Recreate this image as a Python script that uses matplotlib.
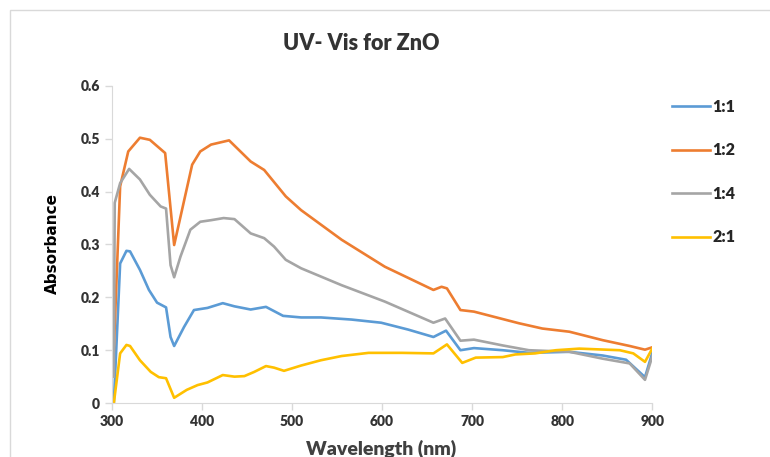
import numpy as np
import matplotlib.pyplot as plt
from matplotlib.patches import Rectangle

# wavelength (nm) / absorbance
wl_11 = [302, 309, 316, 320, 331, 341, 350, 360, 365, 369, 380, 391, 406, 423, 436, 454, 471, 490,
         510, 532, 566, 599, 629, 657, 671, 687, 702, 734, 763, 808, 845, 871, 892, 901]
abs_11 = [0.0, 0.264, 0.288, 0.287, 0.252, 0.214, 0.190, 0.181, 0.125, 0.108, 0.144, 0.176, 0.180,
          0.189, 0.183, 0.177, 0.182, 0.165, 0.162, 0.162, 0.158, 0.152, 0.139, 0.125, 0.137, 0.100,
          0.104, 0.100, 0.095, 0.097, 0.090, 0.082, 0.049, 0.100]

wl_12 = [302, 309, 318, 331, 342, 359, 369, 389, 398, 410, 430, 454, 469, 493, 510, 555, 603, 657,
         666, 672, 687, 702, 752, 778, 808, 845, 875, 892, 901]
abs_12 = [0.10, 0.410, 0.476, 0.502, 0.498, 0.473, 0.299, 0.451, 0.476, 0.489, 0.497, 0.457, 0.441,
          0.391, 0.365, 0.309, 0.258, 0.214, 0.220, 0.217, 0.176, 0.173, 0.151, 0.141, 0.135, 0.119,
          0.108, 0.101, 0.106]

wl_14 = [302, 303, 309, 319, 331, 342, 354, 360, 365, 369, 376, 387, 398, 410, 424, 436, 454, 469,
         480, 493, 510, 555, 603, 657, 670, 687, 702, 734, 763, 808, 845, 875, 892, 901]
abs_14 = [0.05, 0.379, 0.416, 0.443, 0.423, 0.394, 0.372, 0.368, 0.261, 0.238, 0.277, 0.328, 0.343,
          0.346, 0.350, 0.348, 0.321, 0.312, 0.296, 0.271, 0.255, 0.223, 0.192, 0.152, 0.160, 0.118,
          0.120, 0.109, 0.100, 0.097, 0.084, 0.075, 0.044, 0.093]

wl_21 = [302, 309, 316, 320, 331, 343, 352, 360, 369, 383, 395, 406, 423, 436, 447, 458, 471, 480,
         491, 510, 532, 555, 585, 622, 657, 672, 689, 704, 734, 748, 770, 793, 819, 864, 879, 892, 901]
abs_21 = [0.0, 0.094, 0.110, 0.108, 0.081, 0.059, 0.049, 0.047, 0.010, 0.025, 0.034, 0.039, 0.053,
          0.050, 0.051, 0.059, 0.070, 0.067, 0.061, 0.071, 0.081, 0.089, 0.095, 0.095, 0.094, 0.111,
          0.076, 0.086, 0.087, 0.092, 0.094, 0.100, 0.103, 0.100, 0.094, 0.078, 0.106]

labels = ['1:1', '1:2', '1:4', '2:1']
colors = ['#5B9BD5', '#ED7D31', '#A5A5A5', '#FFC000']

plt.rcParams['font.family'] = ['Lato', 'DejaVu Sans']

fig = plt.figure(figsize=(7.7, 4.57), dpi=100)
ax = fig.add_axes([0.1455, 0.118, 0.7015, 0.694])

series = [(wl_11, abs_11), (wl_12, abs_12), (wl_14, abs_14), (wl_21, abs_21)]
for (x, y), lab, c in zip(series, labels, colors):
    ax.plot(x, y, color=c, lw=1.9, label=lab)

ax.set_xlim(300, 900)
ax.set_ylim(0, 0.6)
ax.set_xticks(np.arange(300, 901, 100))
ax.set_yticks(np.arange(0, 0.61, 0.1))
ax.set_yticklabels(['0', '0.1', '0.2', '0.3', '0.4', '0.5', '0.6'])

for s in ['top', 'right']:
    ax.spines[s].set_visible(False)
for s in ['left', 'bottom']:
    ax.spines[s].set_color('#d9d9d9')
ax.tick_params(colors='#d9d9d9', labelcolor='#333333', labelsize=10, length=5, width=1)
for t in ax.get_xticklabels() + ax.get_yticklabels():
    t.set_fontweight('heavy')

ax.set_xlabel('Wavelength (nm)', fontsize=14, fontweight='heavy', color='#404040')
ax.xaxis.set_label_coords(0.498, -0.117)
ax.set_ylabel('Absorbance', fontsize=11, fontweight='bold', color='#000000',
              family=['DejaVu Sans'])
ax.yaxis.set_label_coords(-0.111, 0.503)
ax.yaxis.label.set_va('center')
fig.text(0.4695, 0.904, 'UV- Vis for ZnO', ha='center', va='center', fontsize=15.5,
         fontweight='heavy', color='#333333')

leg = ax.legend(loc='upper left', bbox_to_anchor=(1.01, 1.005), frameon=False, fontsize=11.5,
                handlelength=2.4, labelspacing=1.72, handletextpad=0.15)
for t in leg.get_texts():
    t.set_fontweight('heavy')
    t.set_color('#262626')

fig.patches.append(Rectangle((10 / 770, -0.1), 1.2, 1 - 10 / 457 + 0.1, transform=fig.transFigure,
                             fill=False, edgecolor='#d9d9d9', lw=1))

fig.savefig('out.png', dpi=100)
